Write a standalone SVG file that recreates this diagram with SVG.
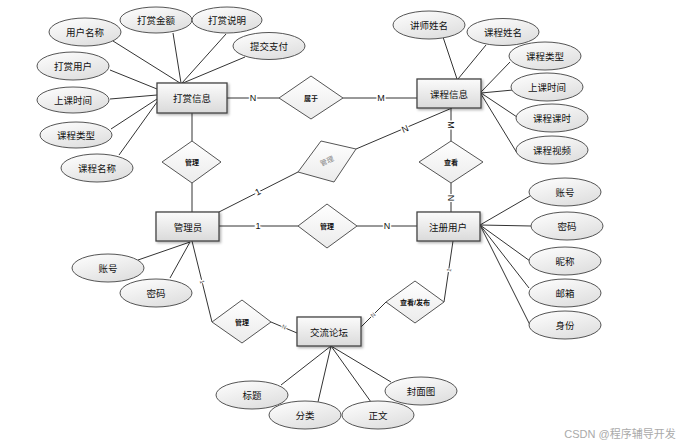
<svg xmlns="http://www.w3.org/2000/svg" width="688" height="448" viewBox="0 0 688 448">
<style>
text{font-family:"Liberation Sans","Noto Sans CJK SC",sans-serif;text-anchor:middle;dominant-baseline:central;fill:#111}
.ent rect{fill:url(#gEnt);stroke:#444;stroke-width:1.3;filter:url(#sh)}
.ent text{font-size:9.5px}
.att ellipse{fill:url(#gAtt);stroke:#555;stroke-width:1}
.att text{font-size:9.5px}
.rel polygon{fill:url(#gRel);stroke:#555;stroke-width:1}
.rel text{font-size:7px;font-weight:bold}
#conn line,#conn polyline{stroke:#333;stroke-width:1;fill:none}
.lb{font-size:9px;paint-order:stroke;stroke:#fff;stroke-width:3px}
.sl{font-size:6px;fill:#555;paint-order:stroke;stroke:#fff;stroke-width:2px}
</style>
<defs>
<linearGradient id="gEnt" x1="0" y1="0" x2="0" y2="1"><stop offset="0" stop-color="#fbfbfb"/><stop offset="1" stop-color="#dadada"/></linearGradient>
<linearGradient id="gRel" x1="0" y1="0" x2="0" y2="1"><stop offset="0" stop-color="#ffffff"/><stop offset="1" stop-color="#ebebeb"/></linearGradient>
<linearGradient id="gAtt" x1="0" y1="0" x2="0.6" y2="1"><stop offset="0" stop-color="#ffffff"/><stop offset="1" stop-color="#e0e0e0"/></linearGradient>
<filter id="sh" x="-10%" y="-10%" width="130%" height="140%"><feDropShadow dx="1.5" dy="1.5" stdDeviation="1" flood-color="#000" flood-opacity="0.3"/></filter>
</defs>
<rect width="688" height="448" fill="#fff"/>
<g id="conn">
<line x1="113" y1="41" x2="180" y2="83"/>
<line x1="173" y1="33" x2="181" y2="83"/>
<line x1="226" y1="34" x2="182" y2="83"/>
<line x1="245" y1="57" x2="183" y2="83"/>
<line x1="110" y1="70" x2="157" y2="89"/>
<line x1="110" y1="99" x2="157" y2="95"/>
<line x1="111" y1="129" x2="157" y2="99"/>
<line x1="119" y1="155" x2="157" y2="102"/>
<line x1="443" y1="37" x2="457" y2="79"/>
<line x1="486" y1="45" x2="458" y2="79"/>
<line x1="510" y1="62" x2="481" y2="92"/>
<line x1="513" y1="90" x2="481" y2="93"/>
<line x1="517" y1="117" x2="481" y2="93"/>
<line x1="517" y1="153" x2="481" y2="94"/>
<line x1="480" y1="225" x2="530" y2="196"/>
<line x1="480" y1="225" x2="531" y2="226"/>
<line x1="480" y1="225" x2="530" y2="261"/>
<line x1="480" y1="225" x2="529" y2="288"/>
<line x1="480" y1="225" x2="530" y2="325"/>
<line x1="138" y1="260" x2="190" y2="242"/>
<line x1="170" y1="278" x2="190" y2="242"/>
<line x1="331" y1="346" x2="281" y2="385"/>
<line x1="331" y1="346" x2="318" y2="402"/>
<line x1="331" y1="346" x2="371" y2="402"/>
<line x1="331" y1="346" x2="391" y2="382"/>
<line x1="227" y1="98" x2="279" y2="98"/>
<line x1="343" y1="98" x2="417" y2="98"/>
<line x1="192" y1="113" x2="192" y2="141"/>
<line x1="192" y1="183" x2="192" y2="212"/>
<line x1="219" y1="212" x2="298" y2="172"/>
<line x1="356" y1="149" x2="452" y2="108"/>
<line x1="451" y1="108" x2="451" y2="141"/>
<line x1="451" y1="183" x2="451" y2="212"/>
<line x1="219" y1="226" x2="298" y2="226"/>
<line x1="357" y1="226" x2="417" y2="226"/>
<line x1="192" y1="241" x2="212" y2="322"/>
<line x1="271" y1="322" x2="297" y2="333"/>
<line x1="361" y1="327" x2="386" y2="302"/>
<line x1="444" y1="302" x2="453" y2="241"/>
<text class="lb" x="253" y="98">N</text>
<text class="lb" x="381" y="98">M</text>
<text class="lb" x="258" y="192" transform="rotate(-27 258 192)">1</text>
<text class="lb" x="405" y="129" transform="rotate(-23 405 129)">N</text>
<text class="lb" x="451" y="125" transform="rotate(90 451 125)">M</text>
<text class="lb" x="451" y="198" transform="rotate(90 451 198)">N</text>
<text class="lb" x="258" y="226">1</text>
<text class="lb" x="387" y="226">N</text>
<text class="sl" x="202" y="282" transform="rotate(76 202 282)">1</text>
<text class="sl" x="284" y="327" transform="rotate(23 284 327)">N</text>
<text class="sl" x="373" y="315" transform="rotate(-45 373 315)">N</text>
<text class="sl" x="449" y="270" transform="rotate(-81 449 270)">1</text>
</g>
<g id="e-dashang" class="ent"><rect x="157" y="83" width="70" height="30"/><text x="192" y="98">打赏信息</text></g>
<g id="e-kecheng" class="ent"><rect x="417" y="79" width="64" height="29"/><text x="449" y="94">课程信息</text></g>
<g id="e-admin" class="ent"><rect x="156" y="212" width="63" height="29"/><text x="188" y="227">管理员</text></g>
<g id="e-user" class="ent"><rect x="417" y="212" width="63" height="29"/><text x="448" y="227">注册用户</text></g>
<g id="e-forum" class="ent"><rect x="297" y="317" width="64" height="29"/><text x="329" y="332">交流论坛</text></g>
<g id="r-shuyu" class="rel"><polygon points="311,76 343,98 311,119 279,98"/><text x="311" y="98">属于</text></g>
<g id="r-guanli1" class="rel"><polygon points="192,141 221,162 192,183 162,162"/><text x="192" y="162">管理</text></g>
<g id="r-guanli2" class="rel"><polygon points="321,141 356,149 334,182 298,172"/><text x="327" y="161" transform="rotate(-24 327 161)" style="fill:#888;font-weight:normal">管理</text></g>
<g id="r-chakan" class="rel"><polygon points="451,141 483,162 451,183 419,162"/><text x="451" y="162">查看</text></g>
<g id="r-guanli3" class="rel"><polygon points="327,204 357,226 327,248 298,226"/><text x="327" y="226">管理</text></g>
<g id="r-guanli4" class="rel"><polygon points="242,300 271,322 242,343 212,322"/><text x="242" y="322">管理</text></g>
<g id="r-chakanfabu" class="rel"><polygon points="415,281 444,302 415,323 386,302"/><text x="415" y="302">查看/发布</text></g>
<g id="a-yhmc" class="att"><ellipse cx="85" cy="32" rx="36" ry="14"/><text x="85" y="32">用户名称</text></g>
<g id="a-dsje" class="att"><ellipse cx="156" cy="20" rx="36" ry="13"/><text x="156" y="20">打赏金额</text></g>
<g id="a-dssm" class="att"><ellipse cx="227" cy="20" rx="35" ry="13"/><text x="227" y="20">打赏说明</text></g>
<g id="a-tjzf" class="att"><ellipse cx="269" cy="46" rx="36" ry="13.5"/><text x="269" y="46">提交支付</text></g>
<g id="a-dsyh" class="att"><ellipse cx="73" cy="66" rx="36" ry="14"/><text x="73" y="66">打赏用户</text></g>
<g id="a-sksj1" class="att"><ellipse cx="73" cy="100" rx="36" ry="13"/><text x="73" y="100">上课时间</text></g>
<g id="a-kclx1" class="att"><ellipse cx="76" cy="135" rx="36" ry="13"/><text x="76" y="135">课程类型</text></g>
<g id="a-kcmc" class="att"><ellipse cx="97" cy="168" rx="36" ry="14"/><text x="97" y="168">课程名称</text></g>
<g id="a-jsxm" class="att"><ellipse cx="429" cy="25" rx="36" ry="14"/><text x="429" y="25">讲师姓名</text></g>
<g id="a-kcxm" class="att"><ellipse cx="503" cy="32" rx="36" ry="13.5"/><text x="503" y="32">课程姓名</text></g>
<g id="a-kclx2" class="att"><ellipse cx="545" cy="56" rx="36" ry="14"/><text x="545" y="56">课程类型</text></g>
<g id="a-sksj2" class="att"><ellipse cx="547" cy="87" rx="36" ry="14"/><text x="547" y="87">上课时间</text></g>
<g id="a-kcks" class="att"><ellipse cx="552" cy="118" rx="36" ry="14"/><text x="552" y="118">课程课时</text></g>
<g id="a-kcsp" class="att"><ellipse cx="552" cy="150" rx="36" ry="14"/><text x="552" y="150">课程视频</text></g>
<g id="a-zh1" class="att"><ellipse cx="565" cy="192" rx="36" ry="14"/><text x="565" y="192">账号</text></g>
<g id="a-mm1" class="att"><ellipse cx="567" cy="226" rx="36" ry="14"/><text x="567" y="226">密码</text></g>
<g id="a-nc" class="att"><ellipse cx="565" cy="261" rx="36" ry="14"/><text x="565" y="261">昵称</text></g>
<g id="a-yx" class="att"><ellipse cx="565" cy="293" rx="36" ry="14"/><text x="565" y="293">邮箱</text></g>
<g id="a-sf" class="att"><ellipse cx="565" cy="325" rx="36" ry="14"/><text x="565" y="325">身份</text></g>
<g id="a-zh2" class="att"><ellipse cx="108" cy="268" rx="36" ry="14"/><text x="108" y="268">账号</text></g>
<g id="a-mm2" class="att"><ellipse cx="156" cy="293" rx="36" ry="14"/><text x="156" y="293">密码</text></g>
<g id="a-bt" class="att"><ellipse cx="252" cy="395" rx="36" ry="14"/><text x="252" y="395">标题</text></g>
<g id="a-fl" class="att"><ellipse cx="305" cy="415" rx="36" ry="14"/><text x="305" y="415">分类</text></g>
<g id="a-zw" class="att"><ellipse cx="378" cy="415" rx="36" ry="14"/><text x="378" y="415">正文</text></g>
<g id="a-fmt" class="att"><ellipse cx="421" cy="391" rx="36" ry="14"/><text x="421" y="391">封面图</text></g>
<text x="620" y="434" style="font-size:11px;fill:#aaa">CSDN @程序辅导开发</text>
</svg>
